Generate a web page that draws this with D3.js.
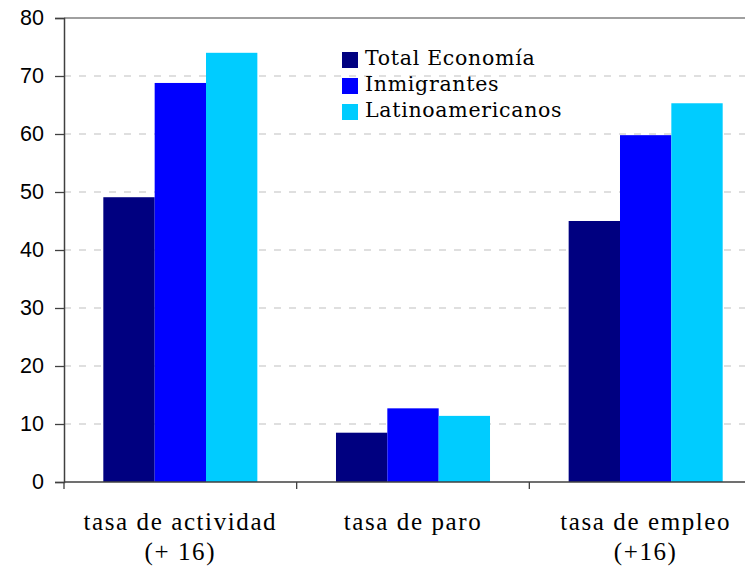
<!DOCTYPE html>
<html>
<head>
<meta charset="utf-8">
<script src="https://cdn.jsdelivr.net/npm/d3@7"></script>
<style>
  body { margin: 0; background: #fff; }
  svg { display: block; }
</style>
</head>
<body>
<svg id="chart"></svg>
<script>
// categories and series
var categories = ["tasa de actividad|(+ 16)", "tasa de paro", "tasa de empleo|(+16)"];
var seriesNames = ["Total Economía", "Inmigrantes", "Latinoamericanos"];
var totalEconomia = [49.1, 8.5, 45.0];
var inmigrantes = [68.8, 12.7, 59.8];
var latinoamericanos = [74.0, 11.4, 65.3];
var yTicks = [0, 10, 20, 30, 40, 50, 60, 70, 80];
var colors = ["#000080", "#0000ff", "#00ccff"];

var width = 745, height = 566;
var m = { left: 64, top: 18, bottom: 482, right: 762 };

var svg = d3.select("#chart").attr("width", width).attr("height", height);

var series = [totalEconomia, inmigrantes, latinoamericanos];
var data = categories.map(function(c, i) {
	return { cat: c, vals: series.map(function(s, j) { return { name: seriesNames[j], v: s[i] }; }) };
});

var x0 = d3.scaleBand().domain(categories).range([m.left, m.right]).paddingInner(0.338).paddingOuter(0.169);
var x1 = d3.scaleBand().domain(seriesNames).range([0, x0.bandwidth()]);
var y = d3.scaleLinear().domain([0, 80]).range([m.bottom, m.top]);

//plot area top border
svg.append("line").attr("x1", m.left).attr("x2", width).attr("y1", y(80)).attr("y2", y(80))
	.style("stroke", "#808080").style("stroke-width", 1.5);

//grid lines
svg.append("g").selectAll("line").data(yTicks.filter(function(t) { return t > 0 && t < 80; }))
	.enter().append("line")
	.attr("x1", m.left).attr("x2", width)
	.attr("y1", function(d) { return y(d); }).attr("y2", function(d) { return y(d); })
	.style("stroke", "#c0c0c0").style("stroke-width", 1.2).style("stroke-dasharray", "7,8");

//bars
svg.append("g").selectAll("g").data(data).enter().append("g")
	.attr("transform", function(d) { return "translate(" + x0(d.cat) + ",0)"; })
	.selectAll("rect").data(function(d) { return d.vals; }).enter().append("rect")
	.attr("x", function(d) { return x1(d.name); })
	.attr("width", x1.bandwidth())
	.attr("y", function(d) { return y(d.v); })
	.attr("height", function(d) { return y(0) - y(d.v); })
	.style("fill", function(d, i) { return colors[i]; });

//y axis
var yAxis = svg.append("g").attr("transform", "translate(" + m.left + ",0)")
	.call(d3.axisLeft(y).tickValues(yTicks).tickSize(9).tickPadding(11));
yAxis.select(".domain").style("stroke", "#404040").style("stroke-width", 1.5);
yAxis.selectAll(".tick line").style("stroke", "#404040").style("stroke-width", 1.3);
yAxis.selectAll("text").style("font-family", "'Liberation Sans', Arial, sans-serif")
	.style("font-size", "21.5px").style("fill", "#000");

//x axis line and separators
svg.append("line").attr("x1", m.left).attr("x2", width).attr("y1", y(0)).attr("y2", y(0))
	.style("stroke", "#404040").style("stroke-width", 1.5);
var step = x0.step();
svg.append("g").selectAll("line").data(categories).enter().append("line")
	.attr("x1", function(d) { return x0(d) - x0.paddingInner() * step / 2; })
	.attr("x2", function(d) { return x0(d) - x0.paddingInner() * step / 2; })
	.attr("y1", y(0)).attr("y2", y(0) + 7)
	.style("stroke", "#404040").style("stroke-width", 1.3);

//category labels
var lab = svg.append("g").selectAll("text").data(categories).enter().append("text")
	.attr("text-anchor", "middle")
	.style("font-family", "'Liberation Serif', 'Times New Roman', serif")
	.style("font-size", "25px").style("letter-spacing", "1.6px").style("fill", "#000");
lab.each(function(d) {
	var t = d3.select(this), cx = x0(d) + x0.bandwidth() / 2;
	d.split("|").forEach(function(line, i) {
		t.append("tspan").attr("x", cx).attr("y", 530 + i * 30).text(line);
	});
});

//legend
var leg = svg.append("g").selectAll("g").data(seriesNames).enter().append("g")
	.attr("transform", function(d, i) { return "translate(342," + (52 + i * 26) + ")"; });
leg.append("rect").attr("width", 16).attr("height", 16)
	.style("fill", function(d, i) { return colors[i]; });
leg.append("text").attr("x", 23).attr("y", 13).text(function(d) { return d; })
	.style("font-family", "'DejaVu Serif', serif").style("font-size", "20.5px")
	.style("letter-spacing", "0.7px").style("fill", "#000");
</script>
</body>
</html>
